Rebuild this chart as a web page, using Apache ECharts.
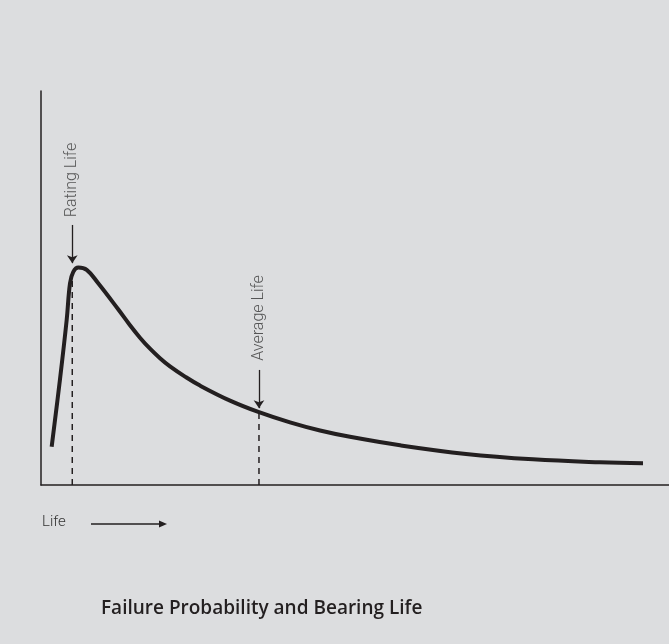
<!DOCTYPE html>
<html>
<head>
<meta charset="utf-8">
<script src="https://cdn.jsdelivr.net/npm/echarts@6/dist/echarts.min.js"></script>
<style>
html,body{margin:0;padding:0;background:#dcdddf;}
#chart{width:669px;height:644px;}
</style>
</head>
<body>
<div id="chart"></div>
<script>
// Life (arbitrary units, 0-100) vs failure probability density (arbitrary units, 0-100)
const lifeValues = [1.70, 3.03, 4.09, 4.62, 5.14, 5.94, 7.28, 9.08, 12.26, 14.17, 15.76, 17.36, 18.95, 20.54, 22.93, 25.32, 30.10, 34.71, 39.65, 44.43, 49.20, 57.17, 67.68, 78.34, 89.01, 95.86];
const probValues = [9.7, 26.9, 41.9, 51.2, 54.1, 55.2, 54.6, 51.27, 44.67, 40.56, 37.39, 34.59, 32.18, 30.10, 27.51, 25.23, 21.42, 18.48, 15.89, 13.83, 12.23, 10.08, 7.89, 6.52, 5.76, 5.51];
const ratingLife = 4.98;
const averageLife = 34.71;
const ratingLifeProb = 53.5;
const averageLifeProb = 18.48;
const ratingArrow = [66.0, 56.3];
const averageArrow = [29.2, 19.5];
const ratingLabelY = 77.4;
const averageLabelY = 42.4;
const labels = ['Rating Life', 'Average Life'];
const titleText = 'Failure Probability and Bearing Life';
const xName = 'Life';

const ink = '#231f20';
const labelColor = '#333333';

const curve = lifeValues.map((x, i) => [x, probValues[i]]);

const chart = echarts.init(document.getElementById('chart'), null, {renderer: 'canvas'});
chart.setOption({
  animation: false,
  backgroundColor: '#dcdddf',
  title: {
    text: titleText,
    left: 96,
    top: 594,
    textStyle: {fontFamily: 'Open Sans', fontSize: 19, fontWeight: 600, color: ink}
  },
  grid: {left: 41, right: 0, top: 91, bottom: 159},
  xAxis: {
    type: 'value', min: 0, max: 100,
    axisLine: {show: true, lineStyle: {color: ink, width: 1.5}},
    axisTick: {show: false}, axisLabel: {show: false}, splitLine: {show: false}
  },
  yAxis: {
    type: 'value', min: 0, max: 100,
    axisLine: {show: true, lineStyle: {color: ink, width: 1.5}},
    axisTick: {show: false}, axisLabel: {show: false}, splitLine: {show: false}
  },
  graphic: [
    {type: 'text', left: 42, top: 515,
      style: {text: xName, fill: labelColor, font: '300 15px Roboto'}},
    {type: 'line', shape: {x1: 91, y1: 524, x2: 161, y2: 524},
      style: {stroke: ink, lineWidth: 1.3}},
    {type: 'polygon', shape: {points: [[159, 520.5], [167, 524], [159, 527.5]]},
      style: {fill: ink}}
  ],
  series: [
    {
      type: 'line', data: curve, smooth: 0.4, showSymbol: false,
      lineStyle: {color: ink, width: 4}, z: 5,
      markLine: {
        silent: true,
        symbol: ['none', 'arrow'], symbolSize: 8,
        label: {show: false},
        lineStyle: {color: ink, width: 1.3, type: 'solid'},
        data: [
          [{coord: [ratingLife, ratingArrow[0]]}, {coord: [ratingLife, ratingArrow[1]]}],
          [{coord: [averageLife, averageArrow[0]]}, {coord: [averageLife, averageArrow[1]]}]
        ]
      }
    },
    {
      type: 'line', data: [[ratingLife, 0], [ratingLife, ratingLifeProb]], showSymbol: false,
      lineStyle: {color: ink, width: 1.5, type: [6, 5]}, z: 3
    },
    {
      type: 'line', data: [[averageLife, 0], [averageLife, averageLifeProb]], showSymbol: false,
      lineStyle: {color: ink, width: 1.5, type: [6, 5]}, z: 3
    },
    {
      type: 'scatter', symbolSize: 0,
      data: [
        {name: labels[0], value: [ratingLife, ratingLabelY]},
        {name: labels[1], value: [averageLife, averageLabelY]}
      ],
      label: {show: true, formatter: '{b}', rotate: 90, position: 'inside',
        fontFamily: 'Roboto', fontWeight: 300, fontSize: 16, color: labelColor}
    }
  ]
});
</script>
</body>
</html>
